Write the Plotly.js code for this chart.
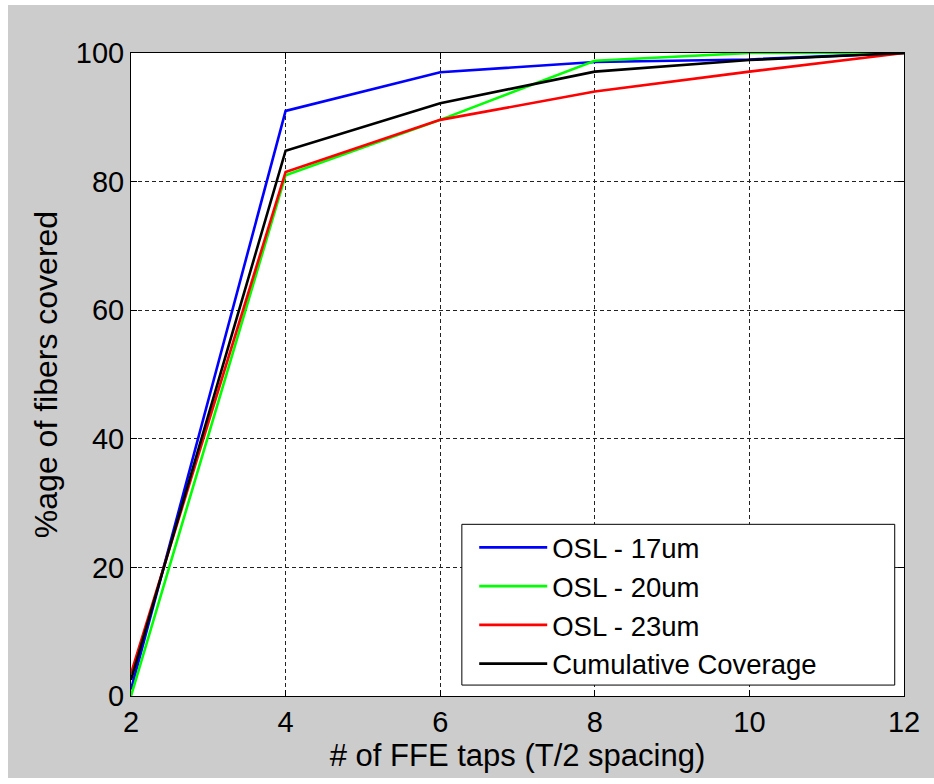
<!DOCTYPE html>
<html>
<head>
<meta charset="utf-8">
<script src="https://cdn.plot.ly/plotly-3.0.1.min.js"></script>
<style>
  html, body { margin: 0; padding: 0; background: #ffffff; }
  #chart { position: absolute; left: 8px; top: 5px; width: 926px; height: 773px; }
</style>
</head>
<body>
<div id="chart"></div>
<script>
const taps = [2, 4, 6, 8, 10, 12];
const osl17 = [1, 91, 97, 98.6, 99, 100];
const osl20 = [0, 81, 89.6, 98.8, 100, 100];
const osl23 = [3.5, 81.5, 89.6, 94, 97.1, 100];
const cumulative = [2.5, 84.8, 92.2, 97.1, 98.9, 100];
const seriesNames = ["OSL - 17um", "OSL - 20um", "OSL - 23um", "Cumulative Coverage"];
const xTicks = [2, 4, 6, 8, 10, 12];
const yTicks = [0, 20, 40, 60, 80, 100];

const colors = ["#0000ff", "#00ff00", "#ff0000", "#000000"];
const ys = [osl17, osl20, osl23, cumulative];
const traces = ys.map((y, i) => ({
  x: taps, y: y, type: "scatter", mode: "lines", name: seriesNames[i],
  line: { color: colors[i], width: 2.6 }
}));

const font = { family: "Liberation Sans, Arial, sans-serif", color: "#000000" };
const axisCommon = {
  showline: true, linecolor: "#000000", linewidth: 1, mirror: "ticks",
  ticks: "inside", ticklen: 6, tickcolor: "#000000",
  showgrid: true, gridcolor: "#222222", gridwidth: 1, griddash: "4px,3px",
  zeroline: false, tickfont: Object.assign({ size: 29 }, font)
};

const layout = {
  width: 926, height: 773,
  paper_bgcolor: "#cccccc", plot_bgcolor: "#ffffff",
  margin: { l: 123, r: 30, t: 48, b: 82 },
  showlegend: true,
  legend: {
    x: 0.444, y: 0.269, xanchor: "left", yanchor: "top",
    bgcolor: "rgba(0,0,0,0)", borderwidth: 0, itemwidth: 68,
    font: Object.assign({ size: 27.5 }, font), tracegroupgap: 0
  },
  shapes: [{
    type: "rect", xref: "paper", yref: "paper",
    x0: 0.428, x1: 0.988, y0: 0.017, y1: 0.267,
    fillcolor: "#ffffff", line: { color: "#000000", width: 1 }, layer: "above"
  }],
  xaxis: Object.assign({}, axisCommon, {
    range: [2, 12], tickvals: xTicks, ticktext: xTicks.map(String),
    title: { text: "# of FFE taps (T/2 spacing)", font: Object.assign({ size: 31 }, font), standoff: 4 }
  }),
  yaxis: Object.assign({}, axisCommon, {
    range: [0, 100], tickvals: yTicks, ticktext: yTicks.map(String),
    title: { text: "%age of fibers covered", font: Object.assign({ size: 32 }, font), standoff: 8 }
  })
};

Plotly.newPlot("chart", traces, layout, { displayModeBar: false, staticPlot: true });
</script>
</body>
</html>
